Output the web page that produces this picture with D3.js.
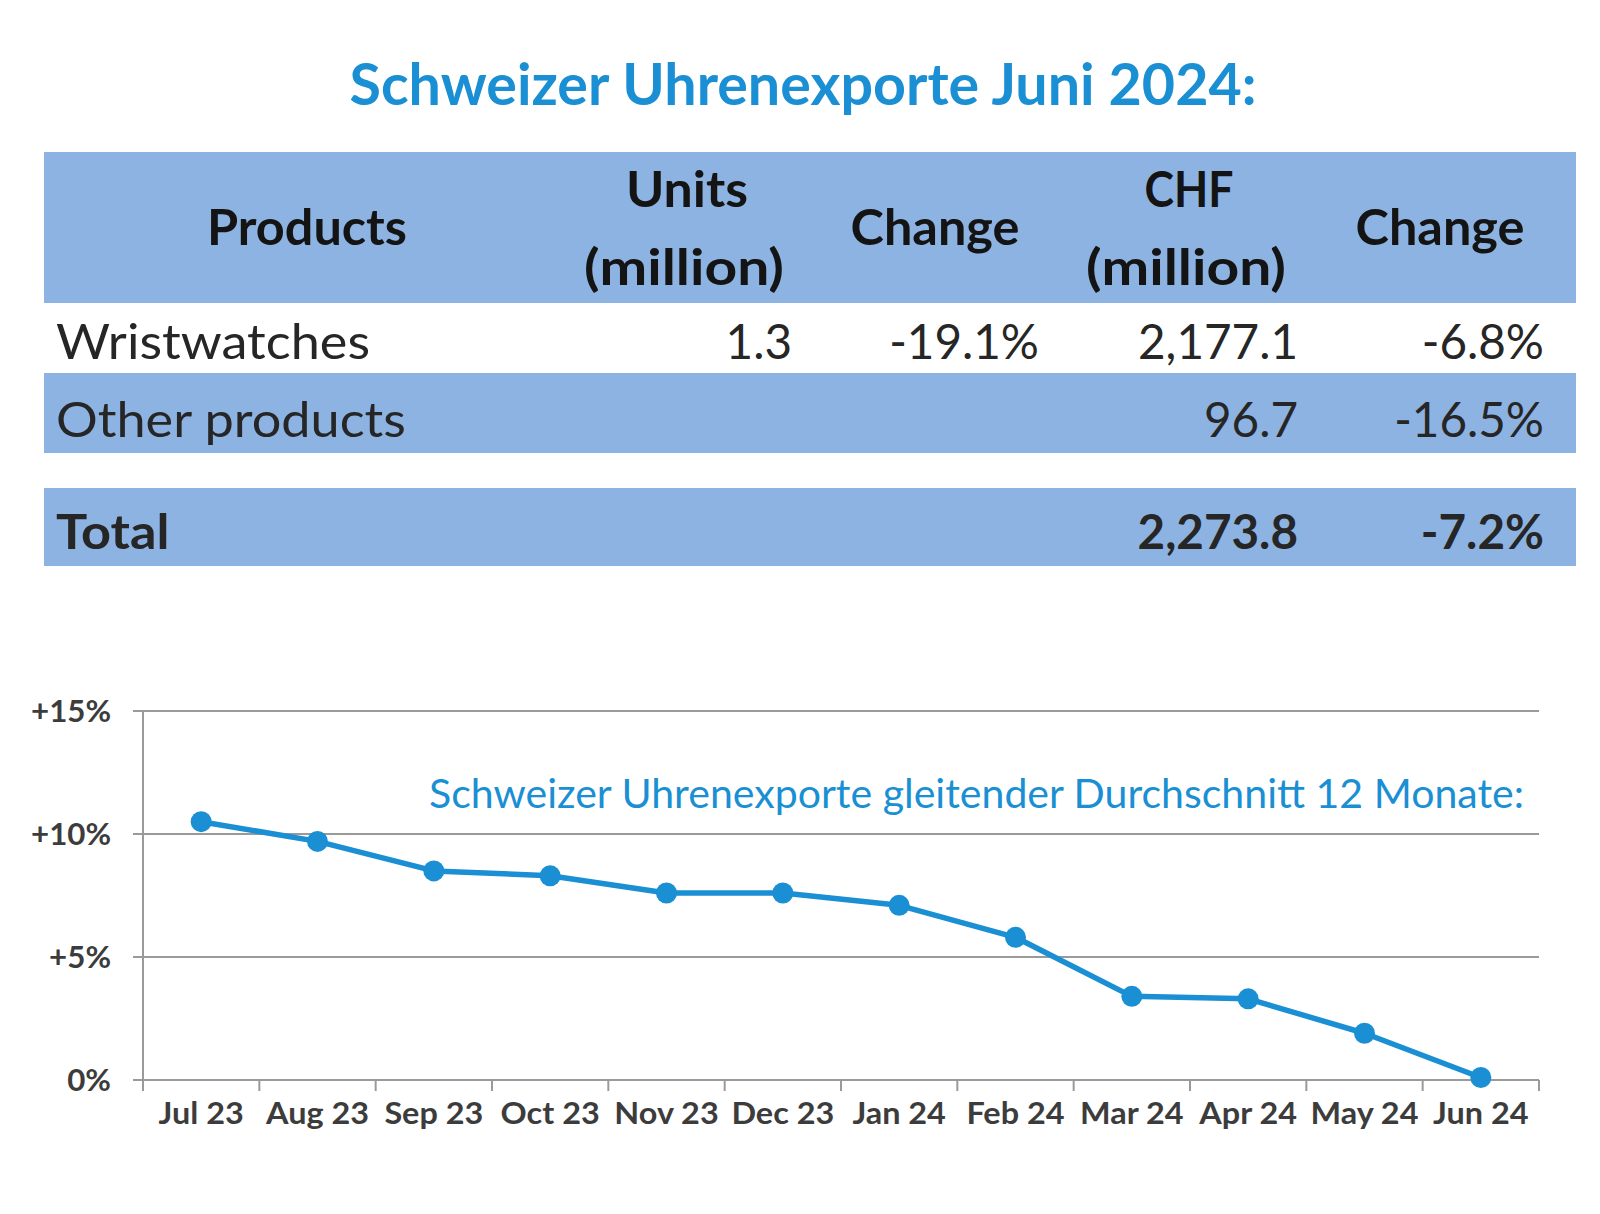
<!DOCTYPE html>
<html>
<head>
<meta charset="utf-8">
<script src="https://cdn.jsdelivr.net/npm/d3@7"></script>
<style>
  html, body { margin: 0; padding: 0; background: #fff; }
  svg { display: block; font-family: Lato, "Open Sans", sans-serif; }
</style>
</head>
<body>
<svg id="c" width="1600" height="1214"></svg>
<script>
// ---------- data ----------
const title = "Schweizer Uhrenexporte Juni 2024:";
const headerTop = ["", "Units", "", "CHF", ""];
const headerMain = ["Products", "(million)", "Change", "(million)", "Change"];
const rowLabels = ["Wristwatches", "Other products", "Total"];
const units = ["1.3", "", ""];
const unitsChange = ["-19.1%", "", ""];
const chf = ["2,177.1", "96.7", "2,273.8"];
const chfChange = ["-6.8%", "-16.5%", "-7.2%"];

const months = ["Jul 23","Aug 23","Sep 23","Oct 23","Nov 23","Dec 23","Jan 24","Feb 24","Mar 24","Apr 24","May 24","Jun 24"];
const avg12 = [10.5, 9.7, 8.5, 8.3, 7.6, 7.6, 7.1, 5.8, 3.4, 3.3, 1.9, 0.1];
const yTicks = [0, 5, 10, 15];
const yTickLabels = ["0%", "+5%", "+10%", "+15%"];
const chartNote = "Schweizer Uhrenexporte gleitender Durchschnitt 12 Monate:";

// ---------- styles ----------
const BLUE = "#1a8fd3";
const BAND = "#8db3e2";
const svg = d3.select("#c");

function fitGroup(sel, refWidth, refText) {
  let k = 1;
  sel.each(function () {
    if (this.textContent === refText) k = refWidth / this.getComputedTextLength();
  });
  sel.each(function () {
    const L = this.getComputedTextLength();
    if (L > 0) d3.select(this).attr("textLength", L * k).attr("lengthAdjust", "spacingAndGlyphs");
  });
}
function fitOne(node, w) {
  d3.select(node).attr("textLength", w).attr("lengthAdjust", "spacingAndGlyphs");
}

// ---------- title ----------
svg.append("text")
  .attr("x", 803).attr("y", 105)
  .attr("text-anchor", "middle")
  .attr("font-size", 58).attr("font-weight", 700)
  .attr("fill", BLUE)
  .text(title)
  .attr("textLength", 907).attr("lengthAdjust", "spacingAndGlyphs");

// ---------- table ----------
const tblX0 = 44, tblX1 = 1576;
const bands = [[152, 303], [373, 453], [488, 566]];
svg.selectAll("rect.band").data(bands).join("rect")
  .attr("class", "band")
  .attr("x", tblX0).attr("width", tblX1 - tblX0)
  .attr("y", d => d[0]).attr("height", d => d[1] - d[0])
  .attr("fill", BAND);

const headCx = [307, 687, 935, 1189, 1440];
const hdr = svg.append("g").attr("font-size", 50).attr("font-weight", 700).attr("fill", "#141414").attr("text-anchor", "middle");
headerMain.forEach((t, i) => {
  const twoLine = headerTop[i] !== "";
  if (twoLine) {
    hdr.append("text").attr("class", "top").attr("x", headCx[i]).attr("y", 207).text(headerTop[i]);
    hdr.append("text").attr("class", "paren").attr("x", headCx[i] - 3).attr("y", 285).text(t);
  } else {
    hdr.append("text").attr("x", headCx[i]).attr("y", 245).text(t);
  }
});
fitGroup(hdr.selectAll("text"), 200, "Products");
hdr.selectAll("text.paren").each(function () { fitOne(this, 200); });
hdr.selectAll("text.top").each(function () { if (this.textContent === "CHF") fitOne(this, 89); else fitOne(this, 122); });

const rowBase = [359, 437, 549];
const colRight = [792, 1039, 1298, 1544];
const body = svg.append("g").attr("font-size", 48).attr("fill", "#262626");
rowLabels.forEach((lab, r) => {
  const bold = r === 2 ? 700 : 400;
  body.append("text").attr("class", "lab").attr("x", 56).attr("y", rowBase[r]).attr("font-weight", bold).text(lab);
  [units[r], unitsChange[r], chf[r], chfChange[r]].forEach((v, c) => {
    if (v === "") return;
    body.append("text").attr("class", "num").attr("x", colRight[c]).attr("y", rowBase[r])
      .attr("text-anchor", "end").attr("font-weight", bold).text(v);
  });
});
fitGroup(body.selectAll("text.lab"), 314, "Wristwatches");
fitGroup(body.selectAll("text.num"), 160, "2,177.1");

// ---------- line chart ----------
const x = d3.scaleBand().domain(months).range([143, 1539]).padding(0);
const y = d3.scaleLinear().domain([0, 15]).range([1080, 711]);

const grid = svg.append("g");
grid.selectAll("line").data(yTicks).join("line")
  .attr("x1", 133).attr("x2", 1539)
  .attr("y1", d => y(d)).attr("y2", d => y(d))
  .attr("stroke", "#9a9a9a").attr("stroke-width", 2);

svg.append("line").attr("x1", 143).attr("x2", 143).attr("y1", y(15)).attr("y2", 1091)
  .attr("stroke", "#9a9a9a").attr("stroke-width", 2);

const bounds = months.map(m => x(m)).concat([x(months[months.length - 1]) + x.bandwidth()]);
svg.append("g").selectAll("line").data(bounds.slice(1)).join("line")
  .attr("x1", d => d).attr("x2", d => d).attr("y1", y(0)).attr("y2", y(0) + 11)
  .attr("stroke", "#9a9a9a").attr("stroke-width", 2);

const xl = svg.append("g").attr("font-size", 31).attr("font-weight", 700).attr("fill", "#3c3c3c").attr("text-anchor", "middle");
xl.selectAll("text").data(months).join("text")
  .attr("x", d => x(d) + x.bandwidth() / 2).attr("y", 1124).text(d => d);
fitGroup(xl.selectAll("text"), 103, "Aug 23");

const yl = svg.append("g").attr("font-size", 30).attr("font-weight", 700).attr("fill", "#3c3c3c").attr("text-anchor", "end");
yl.selectAll("text").data(yTicks).join("text")
  .attr("x", 111).attr("y", d => y(d) + 11).text((d, i) => yTickLabels[i]);
fitGroup(yl.selectAll("text"), 80, "+15%");

svg.append("text")
  .attr("x", 429).attr("y", 808)
  .attr("font-size", 40).attr("font-weight", 400).attr("fill", BLUE)
  .text(chartNote)
  .attr("textLength", 1095).attr("lengthAdjust", "spacingAndGlyphs");

const cx = d => x(d) + x.bandwidth() / 2;
const line = d3.line().x((d, i) => cx(months[i])).y(d => y(d));
svg.append("path").datum(avg12)
  .attr("d", line).attr("fill", "none")
  .attr("stroke", BLUE).attr("stroke-width", 5.5).attr("stroke-linejoin", "round");
svg.append("g").selectAll("circle").data(avg12).join("circle")
  .attr("cx", (d, i) => cx(months[i])).attr("cy", d => y(d)).attr("r", 10.5)
  .attr("fill", BLUE);
</script>
</body>
</html>
